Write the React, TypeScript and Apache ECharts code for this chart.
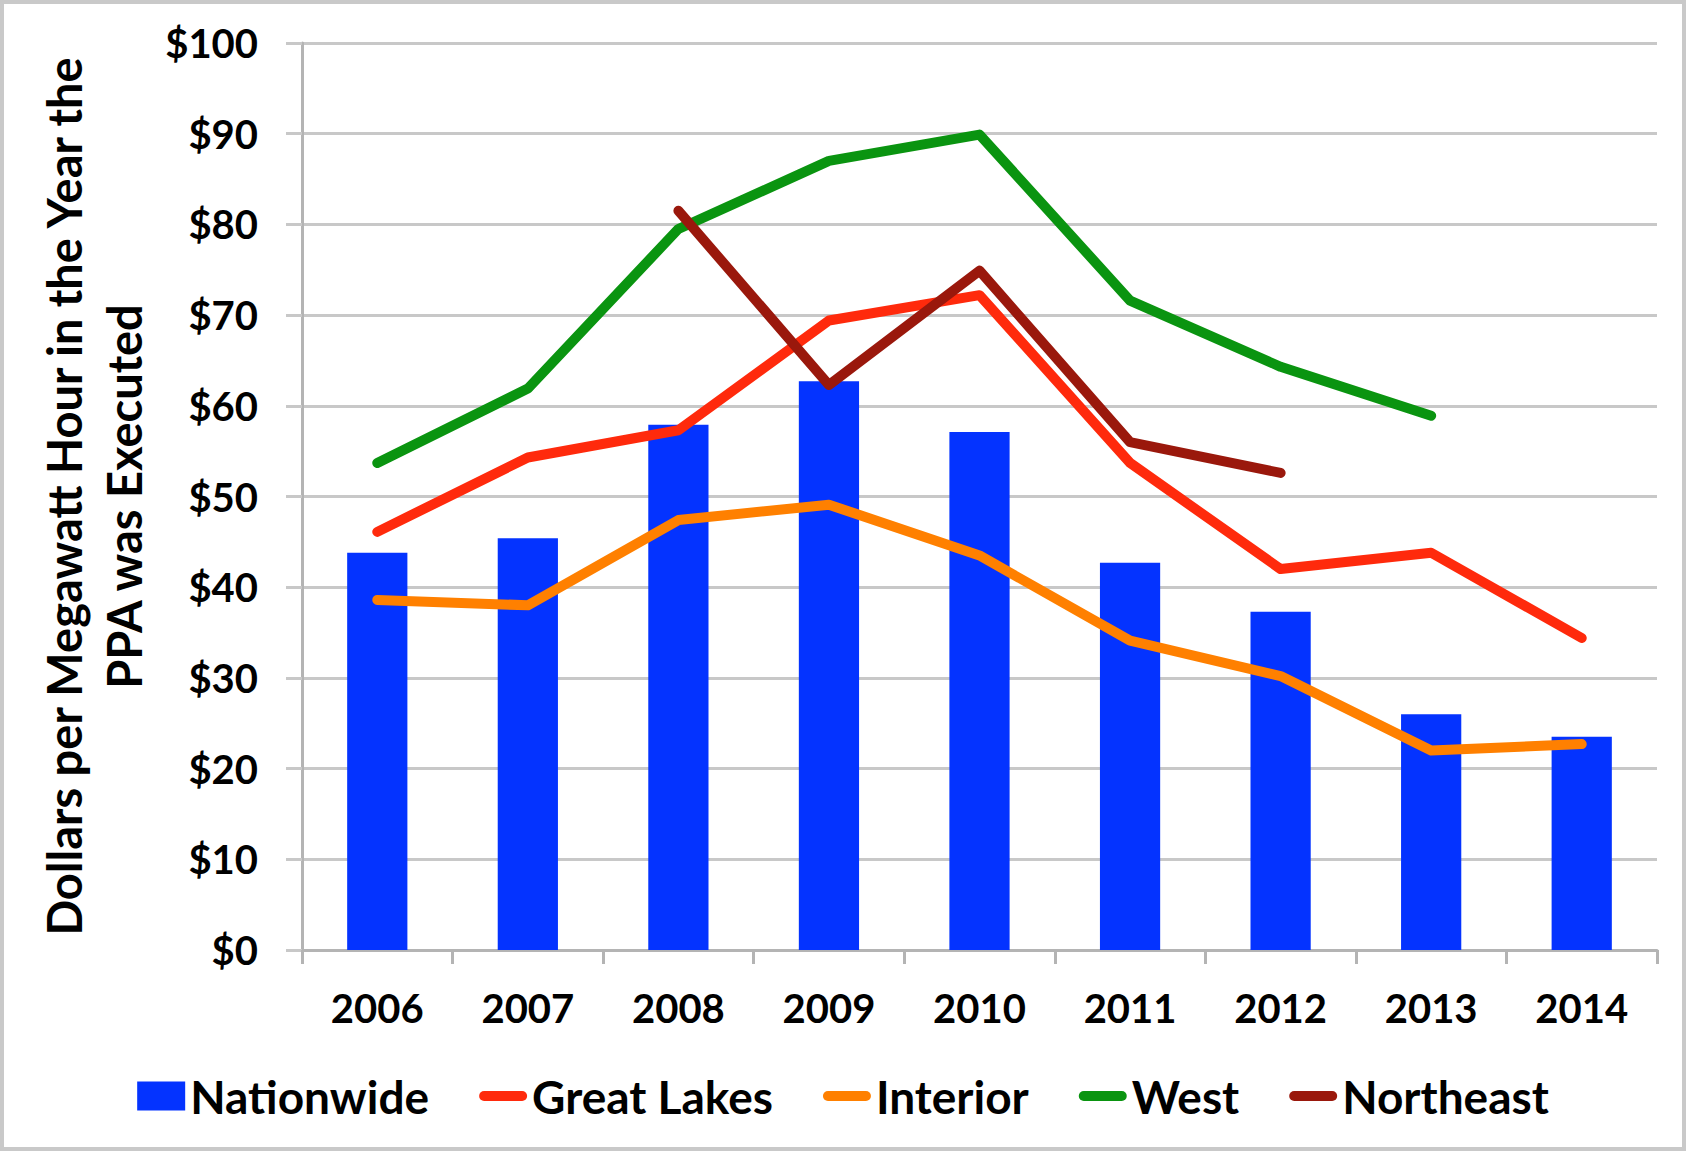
import React, { useEffect, useRef } from "react";
import * as echarts from "echarts";

const years = ["2006", "2007", "2008", "2009", "2010", "2011", "2012", "2013", "2014"];
const nationwide = [43.8, 45.4, 57.9, 62.7, 57.1, 42.7, 37.3, 26.0, 23.5];
const greatLakes = [46.1, 54.3, 57.3, 69.4, 72.2, 53.7, 42.0, 43.8, 34.4];
const interior = [38.6, 38.0, 47.4, 49.1, 43.5, 34.1, 30.2, 22.0, 22.7];
const west = [53.7, 61.9, 79.5, 87.0, 89.9, 71.6, 64.3, 58.9, null];
const northeast = [null, null, 81.5, 62.3, 74.9, 56.0, 52.6, null, null];

const FONT = "Lato";
const LINE_ICON = "path://M5,0L43,0A5,5,0,0,1,43,10L5,10A5,5,0,0,1,5,0Z";

export default function App() {
  const ref = useRef<HTMLDivElement>(null);
  useEffect(() => {
    document.body.style.margin = "0";
    const chart = echarts.init(ref.current!, null, { renderer: "svg" });
    const lineSeries = (name: string, data: (number | null)[], color: string) => ({
      name,
      type: "line",
      data,
      symbol: "none",
      showSymbol: false,
      connectNulls: false,
      lineStyle: { color, width: 10, cap: "round", join: "round" },
      itemStyle: { color },
      z: 3,
    });
    chart.setOption({
      animation: false,
      backgroundColor: "#ffffff",
      textStyle: { fontFamily: FONT },
      graphic: [
        {
          type: "rect",
          shape: { x: 2, y: 2, width: 1682, height: 1147 },
          style: { fill: "none", stroke: "#c9c9c9", lineWidth: 4 },
          silent: true,
        },
      ],
      grid: { left: 302, right: 29, top: 43, bottom: 201, containLabel: false },
      legend: {
        bottom: 27,
        left: "center",
        itemWidth: 48,
        itemHeight: 29,
        itemGap: 50,
        symbolKeepAspect: true,
        textStyle: { fontFamily: FONT, fontWeight: "bold", fontSize: 46, color: "#000" },
        data: [
          { name: "Nationwide", icon: "rect" },
          { name: "Great Lakes", icon: LINE_ICON },
          { name: "Interior", icon: LINE_ICON },
          { name: "West", icon: LINE_ICON },
          { name: "Northeast", icon: LINE_ICON },
        ],
      },
      xAxis: {
        type: "category",
        data: years,
        axisLine: { show: true, lineStyle: { color: "#b4b4b4", width: 3 } },
        axisTick: { show: true, length: 14, lineStyle: { color: "#b4b4b4", width: 3 } },
        axisLabel: { fontFamily: FONT, fontWeight: "bold", fontSize: 40, color: "#000", margin: 38 },
        splitLine: { show: false },
      },
      yAxis: {
        type: "value",
        min: 0,
        max: 100,
        interval: 10,
        name: "Dollars per Megawatt Hour in the Year the\nPPA was Executed",
        nameLocation: "middle",
        nameRotate: 90,
        nameGap: 143,
        nameTextStyle: { fontFamily: FONT, fontWeight: "bold", fontSize: 47, color: "#000", lineHeight: 60 },
        axisLine: { show: true, lineStyle: { color: "#b4b4b4", width: 3 } },
        axisTick: { show: true, length: 16, lineStyle: { color: "#c8c8c8", width: 3 } },
        axisLabel: {
          fontFamily: FONT,
          fontWeight: "bold",
          fontSize: 40,
          color: "#000",
          margin: 44,
          formatter: (v: number) => "$" + v,
        },
        splitLine: { show: true, lineStyle: { color: "#c8c8c8", width: 3 } },
      },
      series: [
        {
          name: "Nationwide",
          type: "bar",
          data: nationwide,
          barWidth: "40%",
          itemStyle: { color: "#0433ff" },
          z: 2,
        },
        lineSeries("Great Lakes", greatLakes, "#ff2a0c"),
        lineSeries("Interior", interior, "#ff8000"),
        lineSeries("West", west, "#0a9410"),
        lineSeries("Northeast", northeast, "#9a180c"),
      ],
    });
    return () => chart.dispose();
  }, []);
  return <div ref={ref} style={{ width: 1686, height: 1151 }} />;
}
